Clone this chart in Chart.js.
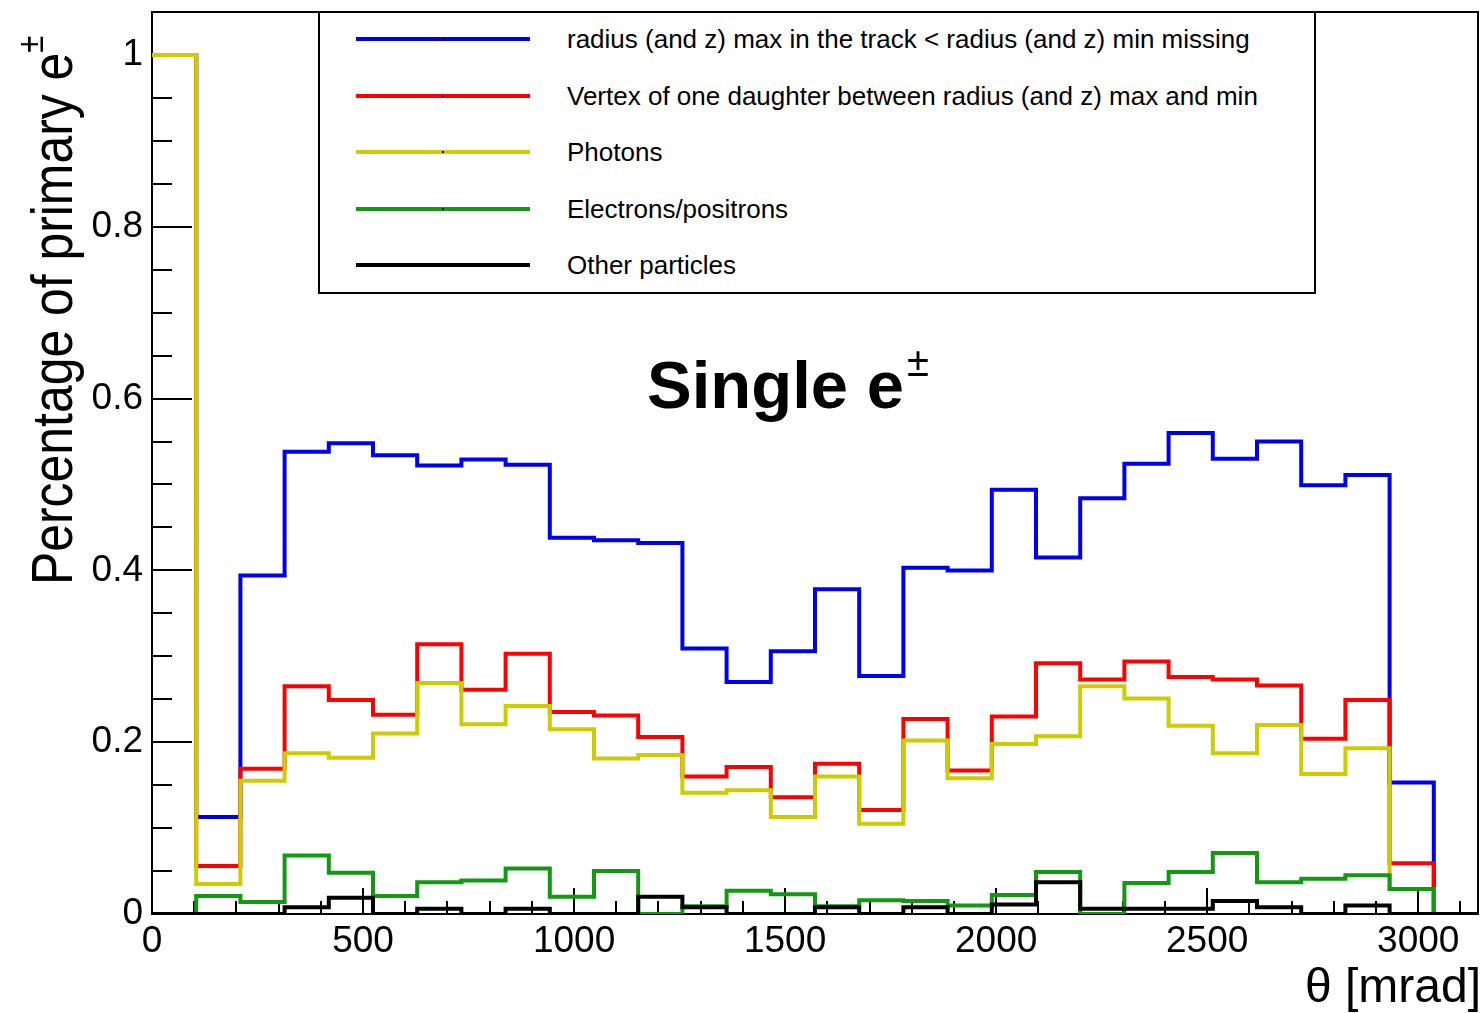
<!DOCTYPE html>
<html>
<head>
<meta charset="utf-8">
<title>Single e±</title>
<script src="https://cdn.jsdelivr.net/npm/chart.js@4.4.1/dist/chart.umd.min.js"></script>
<style>
    html, body { margin: 0; padding: 0; background: #fff; }
    #wrap {
        position: relative; width: 1484px; height: 1013px; overflow: hidden;
        font-family: "Liberation Sans", Arial, Helvetica, sans-serif; color: #000;
    }
    #chart { position: absolute; left: 0; top: 0; }
    .txt { position: absolute; white-space: nowrap; line-height: 1; }
    #title { left: 647px; top: 351px; font-size: 67px; font-weight: bold; }
    #title span { font-size: 40px; font-weight: normal; position: relative; top: -32px; margin-left: 3px; }
    #ytitle {
        left: 23px; top: 585px; font-size: 58px;
        transform-origin: 0 0; transform: rotate(-90deg) scaleX(0.86);
    }
    #ytitle span { font-size: 36px; position: relative; top: -29px; }
    #xtitle { right: 3px; top: 962px; font-size: 48px; }
    #legend-box {
        position: absolute; left: 318px; top: 11px; width: 998px; height: 283px;
        border: 2px solid #000; box-sizing: border-box; background: #fff;
    }
    .leg-line { position: absolute; left: 356px; width: 174px; height: 4px; }
    .leg-dot { position: absolute; left: 86px; top: 1px; width: 2px; height: 2px; background: #000; }
    .leg-text { position: absolute; left: 567px; font-size: 26px; }
</style>
</head>
<body>
<div id="wrap">
    <canvas id="chart" width="1484" height="1013"></canvas>
    <div id="legend-box"></div>
    <div id="title" class="txt">Single e<span>±</span></div>
    <div id="ytitle" class="txt">Percentage of primary e<span>±</span></div>
    <div id="xtitle" class="txt">θ [mrad]</div>
</div>
<script>
    'use strict';

    // 30 bins in theta, 0 .. pi rad
    const nBins = 30;
    const thetaMax = 3141.59;

    const seriesLabels = [
        'radius (and z) max in the track < radius (and z) min missing',
        'Vertex of one daughter between radius (and z) max and min',
        'Photons',
        'Electrons/positrons',
        'Other particles'
    ];
    const seriesColors = ['#0000f0', '#ff0000', '#cccc00', '#119911', '#000000'];

    const radiusMissing = [
        1, 0.113, 0.394, 0.538, 0.548, 0.534, 0.522, 0.529, 0.523, 0.438,
        0.435, 0.432, 0.309, 0.270, 0.306, 0.378, 0.277, 0.403, 0.400, 0.494,
        0.415, 0.484, 0.524, 0.560, 0.530, 0.550, 0.499, 0.511, 0.153, 0
    ];
    const vertexBetween = [
        1, 0.056, 0.169, 0.265, 0.249, 0.232, 0.314, 0.261, 0.303, 0.235,
        0.231, 0.206, 0.160, 0.171, 0.136, 0.175, 0.121, 0.227, 0.167, 0.230,
        0.292, 0.273, 0.294, 0.276, 0.273, 0.266, 0.204, 0.249, 0.059, 0
    ];
    const photons = [
        1, 0.035, 0.155, 0.187, 0.182, 0.210, 0.269, 0.221, 0.242, 0.215,
        0.181, 0.185, 0.141, 0.144, 0.113, 0.160, 0.105, 0.202, 0.158, 0.198,
        0.207, 0.265, 0.251, 0.219, 0.187, 0.220, 0.163, 0.193, 0.029, 0
    ];
    const electrons = [
        0, 0.021, 0.014, 0.068, 0.048, 0.021, 0.037, 0.039, 0.053, 0.020,
        0.050, 0, 0.009, 0.027, 0.023, 0.009, 0.016, 0.015, 0.010, 0.022,
        0.049, 0, 0.036, 0.049, 0.071, 0.037, 0.041, 0.045, 0.029, 0
    ];
    const others = [
        0, 0, 0, 0.008, 0.019, 0, 0.006, 0, 0.006, 0,
        0, 0.020, 0.008, 0, 0, 0.008, 0, 0.008, 0, 0.011,
        0.037, 0.006, 0.006, 0.006, 0.015, 0.008, 0, 0.010, 0, 0
    ];
    const seriesValues = [radiusMissing, vertexBetween, photons, electrons, others];

    const xTickValues = [0, 500, 1000, 1500, 2000, 2500, 3000];
    const xTickLabels = ['0', '500', '1000', '1500', '2000', '2500', '3000'];
    const yTickValues = [0, 0.2, 0.4, 0.6, 0.8, 1];
    const yTickLabels = ['0', '0.2', '0.4', '0.6', '0.8', '1'];
    const yMax = 1.05;

    const FONT = "'Liberation Sans', Arial, Helvetica, sans-serif";
    const binWidth = thetaMax / nBins;

    // step histogram: one point per bin low edge, plus the closing edge
    function toSteps(values) {
        const pts = values.map((v, i) => ({ x: i * binWidth, y: v }));
        pts.push({ x: nBins * binWidth, y: values[values.length - 1] });
        return pts;
    }

    // ROOT style frame with ticks pointing inwards, drawn under the histograms
    const rootFrame = {
        id: 'rootFrame',
        beforeDatasetsDraw(chart) {
            const { ctx, chartArea: a, scales: { x, y } } = chart;
            ctx.save();
            ctx.strokeStyle = '#000';
            ctx.lineWidth = 2;
            ctx.beginPath();
            for (let k = 0; k * 100 <= thetaMax; k++) {
                const px = Math.round(x.getPixelForValue(k * 100));
                const len = k % 5 === 0 ? 26 : 13;
                ctx.moveTo(px, a.bottom);
                ctx.lineTo(px, a.bottom - len);
            }
            for (let k = 0; k * 0.05 <= yMax + 1e-9; k++) {
                const py = Math.round(y.getPixelForValue(k * 0.05));
                const len = k % 4 === 0 ? 40 : 20;
                ctx.moveTo(a.left, py);
                ctx.lineTo(a.left + len, py);
            }
            ctx.stroke();
            ctx.strokeRect(a.left, a.top, a.right - a.left, a.bottom - a.top);
            ctx.restore();
        }
    };

    const datasets = seriesValues.map((vals, idx) => ({
        label: seriesLabels[idx],
        data: toSteps(vals),
        borderColor: seriesColors[idx],
        borderWidth: 4,
        stepped: true,
        fill: false,
        pointRadius: 0,
        // first series lowest, last series on top
        order: seriesValues.length - idx
    }));

    new Chart(document.getElementById('chart').getContext('2d'), {
        type: 'line',
        data: { datasets: datasets },
        options: {
            responsive: false,
            animation: false,
            events: [],
            layout: { padding: { left: 0, top: 12, right: 6, bottom: 0 } },
            plugins: {
                legend: { display: false },
                tooltip: { enabled: false },
                title: { display: false }
            },
            scales: {
                x: {
                    type: 'linear',
                    min: 0,
                    max: thetaMax,
                    grid: { display: false, drawTicks: false },
                    border: { display: false },
                    afterBuildTicks: s => { s.ticks = xTickValues.map(v => ({ value: v })); },
                    afterFit: s => { s.height = 99; s.paddingLeft = 0; s.paddingRight = 0; },
                    ticks: {
                        callback: (v, i) => xTickLabels[i],
                        font: { family: FONT, size: 37 },
                        color: '#000',
                        padding: 6,
                        maxRotation: 0,
                        autoSkip: false
                    }
                },
                y: {
                    type: 'linear',
                    min: 0,
                    max: yMax,
                    grid: { display: false, drawTicks: false },
                    border: { display: false },
                    afterBuildTicks: s => { s.ticks = yTickValues.map(v => ({ value: v })); },
                    afterFit: s => { s.width = 152; s.paddingTop = 0; s.paddingBottom = 0; },
                    ticks: {
                        callback: (v, i) => yTickLabels[i],
                        font: { family: FONT, size: 37 },
                        color: '#000',
                        padding: 9,
                        autoSkip: false
                    }
                }
            }
        },
        plugins: [rootFrame]
    });

    // legend rows inside the box
    const wrap = document.getElementById('wrap');
    seriesLabels.forEach((label, i) => {
        const cy = 39 + i * 56.5;
        const line = document.createElement('div');
        line.className = 'leg-line';
        line.style.top = (cy - 2) + 'px';
        line.style.background = seriesColors[i];
        const dot = document.createElement('div');
        dot.className = 'leg-dot';
        line.appendChild(dot);
        wrap.appendChild(line);

        const txt = document.createElement('div');
        txt.className = 'txt leg-text';
        txt.style.top = (cy - 13) + 'px';
        txt.textContent = label;
        wrap.appendChild(txt);
    });
</script>
</body>
</html>
